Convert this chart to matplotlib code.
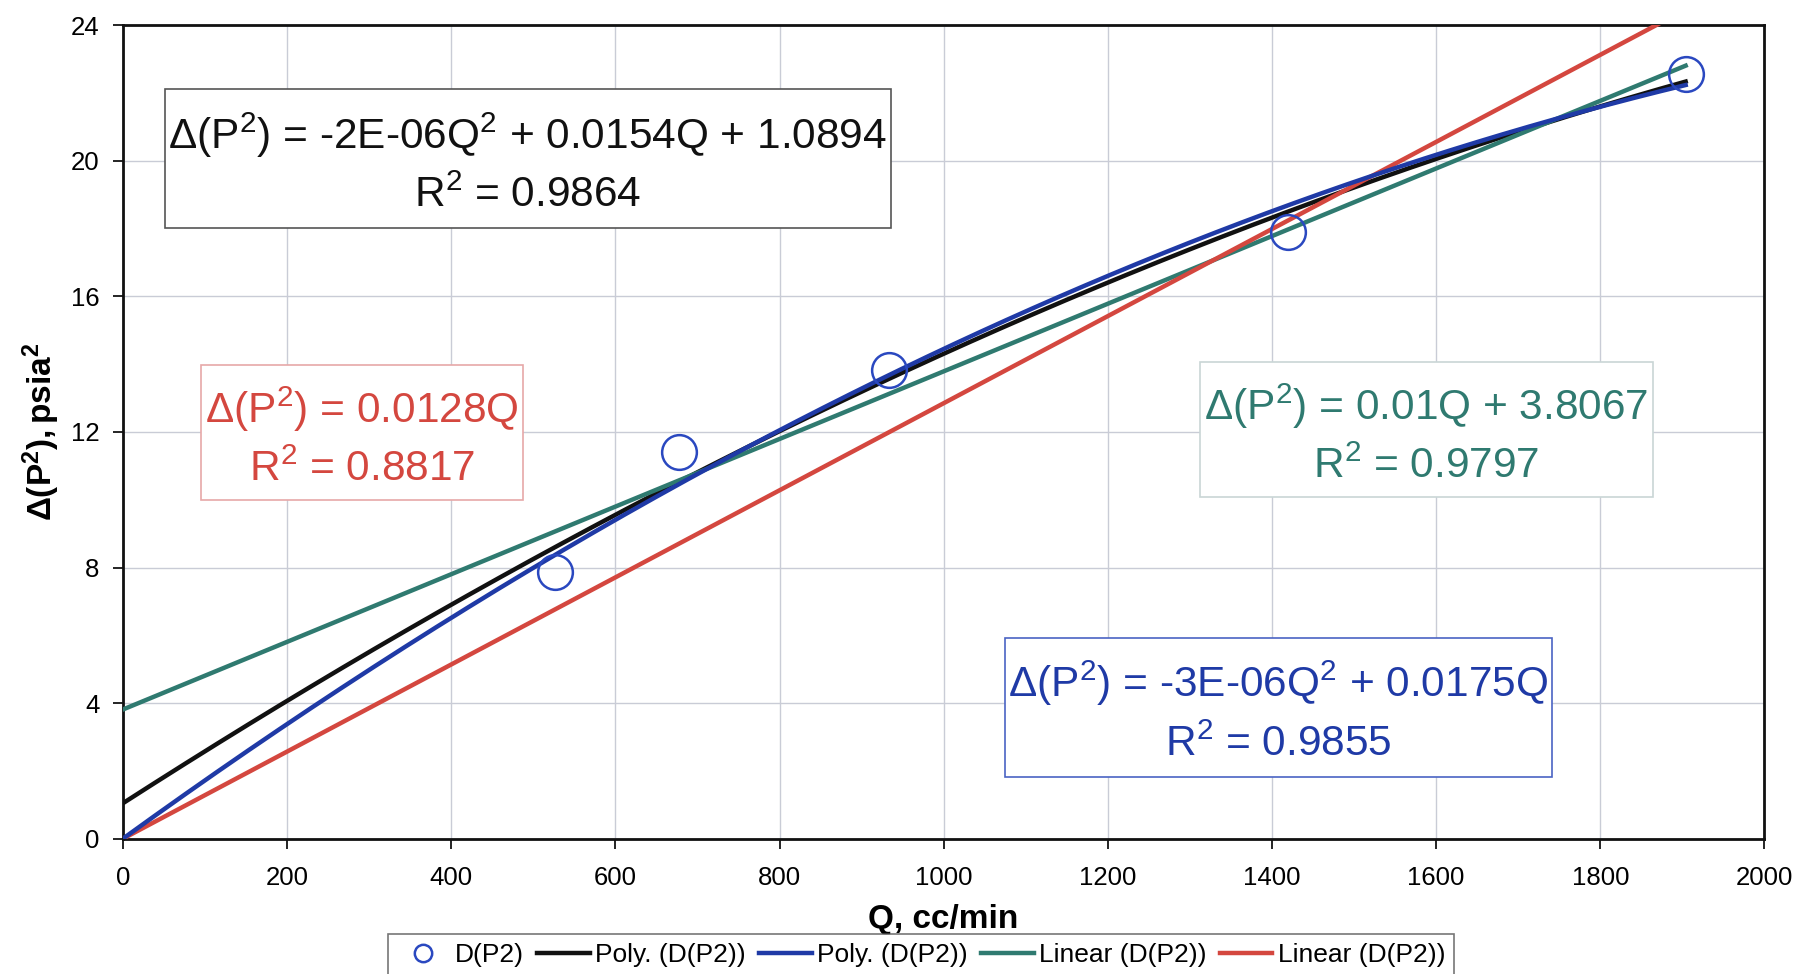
import matplotlib
matplotlib.use("Agg")
import matplotlib.pyplot as plt
import numpy as np
from matplotlib.patches import Rectangle

plt.rcParams["font.family"] = ["Liberation Sans", "DejaVu Sans"]
plt.rcParams["mathtext.fontset"] = "custom"
plt.rcParams["mathtext.rm"] = "Liberation Sans"
plt.rcParams["mathtext.it"] = "Liberation Sans"
plt.rcParams["mathtext.bf"] = "Liberation Sans:bold"
plt.rcParams["mathtext.default"] = "regular"

# measured points
q = np.array([526, 678, 933, 1420, 1904])
dp2 = np.array([7.86, 11.40, 13.82, 17.90, 22.56])

x_ticks = np.arange(0, 2001, 200)
y_ticks = np.arange(0, 25, 4)

C_BLACK = "#111111"
C_BLUE = "#1f3aa6"
C_TEAL = "#2f7a70"
C_RED = "#d4473f"

# trendlines (least squares, like the spreadsheet does)
qq = np.linspace(0, q.max(), 300)
poly_full = np.polyfit(q, dp2, 2)
lin_full = np.polyfit(q, dp2, 1)
A2 = np.column_stack([q ** 2, q])
poly0 = np.linalg.lstsq(A2, dp2, rcond=None)[0]
lin0 = np.linalg.lstsq(q[:, None], dp2, rcond=None)[0]

fig = plt.figure(figsize=(17.99, 9.74), dpi=100)
ax = fig.add_axes([0.0683, 0.1389, 0.9125, 0.8352])

ax.plot(qq, np.polyval(poly_full, qq), color=C_BLACK, lw=3.2, label="Poly. (D(P2))", zorder=3)
ax.plot(qq, np.polyval(lin_full, qq), color=C_TEAL, lw=3.2, label="Linear (D(P2))", zorder=3)
ax.plot(qq, lin0[0] * qq, color=C_RED, lw=3.2, label="Linear (D(P2))", zorder=3)
ax.plot(qq, poly0[0] * qq ** 2 + poly0[1] * qq, color=C_BLUE, lw=3.2, label="Poly. (D(P2))", zorder=4)
ax.plot(q, dp2, "o", ms=25, mfc="none", mec="#2a48c0", mew=1.8, label="D(P2)", zorder=5)

ax.set_xlim(0, 2000)
ax.set_ylim(0, 24)
ax.set_xticks(x_ticks)
ax.set_yticks(y_ticks)
ax.tick_params(labelsize=18.5, direction="out", length=7, width=1.2, pad=10)
ax.tick_params(axis="x", pad=13)
ax.grid(color="#c9ccd6", lw=1.0)
ax.set_axisbelow(True)
for s in ax.spines.values():
    s.set_linewidth(2.0)
    s.set_color("#111111")

ax.set_xlabel("Q, cc/min", fontsize=24, fontweight="bold", labelpad=10)
ax.set_ylabel(r"$\mathbf{\Delta(P^2), psia^2}$", fontsize=24, labelpad=6)


def eq_box(x0, x1, y0, y1, txt, color, edge):
    ax.add_patch(Rectangle((x0, y0), x1 - x0, y1 - y0, fc="white", ec=edge, lw=1.2, zorder=6))
    ax.text((x0 + x1) / 2, (y0 + y1) / 2 - 0.13, txt, color=color, fontsize=30.5,
            ha="center", va="center", linespacing=1.5, zorder=7)


eq_box(51, 936, 18.02, 22.11, "$\\Delta(P^2)$ = -2E-06Q$^2$ + 0.0154Q + 1.0894\nR$^2$ = 0.9864",
       C_BLACK, "#555555")
eq_box(95, 488, 9.98, 13.99, "$\\Delta(P^2)$ = 0.0128Q\nR$^2$ = 0.8817", C_RED, "#e6a8a8")
eq_box(1312, 1864, 10.07, 14.05, "$\\Delta(P^2)$ = 0.01Q + 3.8067\nR$^2$ = 0.9797", C_TEAL, "#c9d6d6")
eq_box(1075, 1741, 1.83, 5.92, "$\\Delta(P^2)$ = -3E-06Q$^2$ + 0.0175Q\nR$^2$ = 0.9855", C_BLUE, "#4a64c4")

h, l = ax.get_legend_handles_labels()
order = [4, 0, 3, 1, 2]
leg = fig.legend([h[i] for i in order], [l[i] for i in order], loc="upper center",
                 bbox_to_anchor=(0.512, 0.041), ncol=5, fontsize=19, frameon=True,
                 fancybox=False, edgecolor="#555555", handlelength=2.0, handletextpad=0.2,
                 columnspacing=0.5, borderpad=0.35, borderaxespad=0, markerscale=0.5)
leg.get_frame().set_linewidth(1.2)

fig.savefig("out.png", dpi=100)
